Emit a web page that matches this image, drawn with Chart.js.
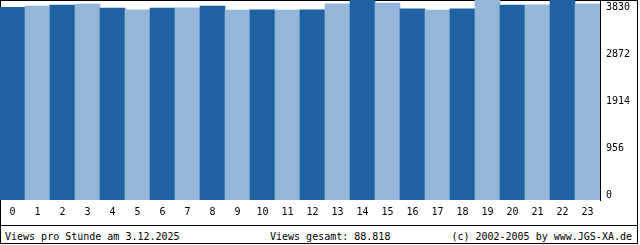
<!DOCTYPE html>
<html lang="de">
<head>
    <meta charset="UTF-8">
    <title>Views pro Stunde</title>
    <script src="https://cdn.jsdelivr.net/npm/chart.js"></script>
    <style>
        body {
            margin: 0;
            background: #fff;
            font-family: "DejaVu Sans Mono", monospace;
            font-size: 10px;
            color: #000;
        }
        .frame {
            position: absolute;
            left: 0;
            top: 0;
            width: 636px;
            height: 242px;
            border: 1px solid #000;
        }
        .chart-box {
            position: absolute;
            left: 0;
            top: 0;
            width: 640px;
            height: 225px;
        }
        .footer {
            position: absolute;
            left: 0;
            top: 225px;
            width: 637px;
            height: 18px;
            border-top: 1px solid #000;
        }
        .footer span {
            position: absolute;
            top: 5px;
            line-height: 12px;
            white-space: pre;
        }
        #caption { left: 5px; }
        #total { left: 270px; }
        #copy { right: 5px; }
    </style>
</head>
<body>
    <div class="frame"></div>
    <div class="chart-box"><canvas id="chart" width="640" height="225"></canvas></div>
    <div class="footer">
        <span id="caption"></span>
        <span id="total"></span>
        <span id="copy"></span>
    </div>
    <script>
        const hours = ['0', '1', '2', '3', '4', '5', '6', '7', '8', '9', '10', '11',
                       '12', '13', '14', '15', '16', '17', '18', '19', '20', '21', '22', '23'];
        const views = [3681, 3702, 3724, 3741, 3668, 3631, 3664, 3670, 3706, 3626, 3633, 3628,
                       3630, 3745, 3830, 3763, 3650, 3627, 3652, 3826, 3722, 3727, 3828, 3744];
        const yTickValues = [0, 956, 1914, 2872, 3830];

        const captionText = 'Views pro Stunde am 3.12.2025';
        const copyText = '(c) 2002-2005 by www.JGS-XA.de';

        const darkBlue = '#1e62a1';
        const lightBlue = '#94b7d9';
        const monoFont = { family: 'DejaVu Sans Mono', size: 10 };

        // total with german thousands separator
        const totalViews = views.reduce((a, b) => a + b, 0);
        const totalText = String(totalViews).replace(/\B(?=(\d{3})+(?!\d))/g, '.');

        document.getElementById('caption').textContent = captionText;
        document.getElementById('total').textContent = 'Views gesamt: ' + totalText;
        document.getElementById('copy').textContent = copyText;

        new Chart(document.getElementById('chart'), {
            type: 'bar',
            data: {
                labels: hours,
                datasets: [{
                    data: views,
                    yAxisID: 'y',
                    backgroundColor: (ctx) => ctx.dataIndex % 2 ? lightBlue : darkBlue,
                    borderWidth: 0,
                    barPercentage: 1,
                    categoryPercentage: 1
                }]
            },
            options: {
                responsive: false,
                animation: false,
                devicePixelRatio: 1,
                layout: { padding: 0 },
                plugins: {
                    legend: { display: false },
                    tooltip: { enabled: false }
                },
                scales: {
                    x: {
                        grid: { display: false, drawTicks: false },
                        border: { display: false },
                        ticks: { color: '#000', font: monoFont, padding: 6, maxRotation: 0, autoSkip: false },
                        afterFit: (scale) => { scale.height = 25; }
                    },
                    y: {
                        display: false,
                        min: 0,
                        max: 3820
                    },
                    y2: {
                        position: 'right',
                        min: -102,
                        max: 3973,
                        grid: { display: false, drawTicks: false },
                        border: { display: true, color: '#000', width: 1 },
                        ticks: {
                            color: '#000',
                            font: monoFont,
                            padding: 6,
                            callback: (value) => String(value)
                        },
                        afterBuildTicks: (scale) => {
                            scale.ticks = yTickValues.map(v => ({ value: v }));
                        },
                        afterFit: (scale) => {
                            scale.width = 40;
                            scale.paddingTop = 0;
                            scale.paddingBottom = 0;
                        }
                    }
                }
            }
        });
    </script>
</body>
</html>
